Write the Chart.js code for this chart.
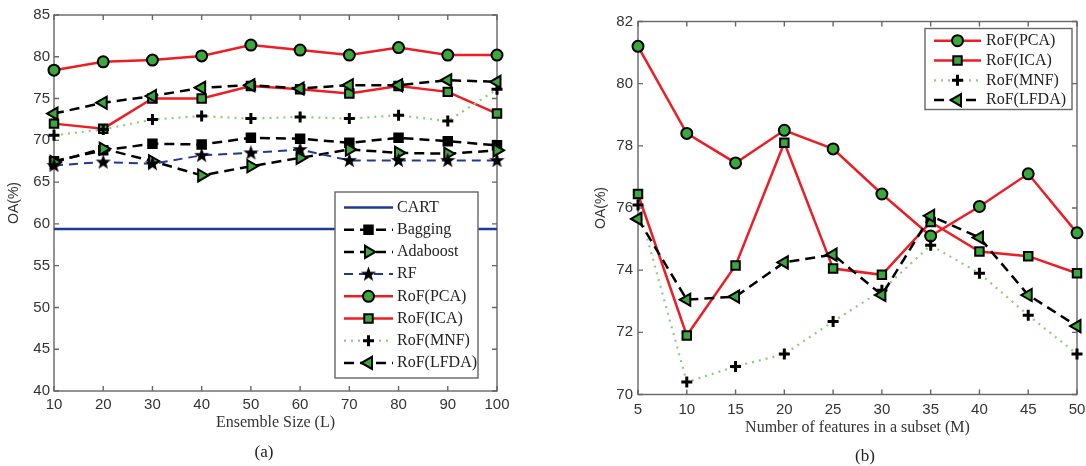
<!DOCTYPE html>
<html>
<head>
<meta charset="utf-8">
<script src="https://cdn.jsdelivr.net/npm/chart.js@4.4.0/dist/chart.umd.min.js"></script>
<style>
    body { margin: 0; background: #fff; width: 1086px; height: 466px; overflow: hidden; position: relative; }
    canvas { position: absolute; top: 0; }
    #graficaA { left: 0; }
    #graficaB { left: 546px; }
    .pie { position: absolute; font-family: "Liberation Serif", serif; font-size: 17px; color: #222; transform: translateX(-50%); }
</style>
</head>
<body>
<canvas id="graficaA" width="540" height="466"></canvas>
<canvas id="graficaB" width="540" height="466"></canvas>
<div class="pie" style="left:264px; top:442px;">(a)</div>
<div class="pie" style="left:865px; top:446px;">(b)</div>
<script>
// (a) precisión vs tamaño del ensamble
const tamanosEnsamble = [10, 20, 30, 40, 50, 60, 70, 80, 90, 100];
const cartOA     = [59.4, 59.4, 59.4, 59.4, 59.4, 59.4, 59.4, 59.4, 59.4, 59.4];
const baggingOA  = [67.5, 68.8, 69.6, 69.5, 70.3, 70.2, 69.7, 70.3, 69.9, 69.4];
const adaboostOA = [67.4, 69.0, 67.5, 65.8, 66.9, 67.9, 68.9, 68.5, 68.4, 68.8];
const rfOA       = [67.0, 67.4, 67.2, 68.2, 68.5, 68.9, 67.6, 67.6, 67.6, 67.6];
const pcaOA_a    = [78.4, 79.4, 79.6, 80.1, 81.4, 80.8, 80.2, 81.1, 80.2, 80.2];
const icaOA_a    = [72.0, 71.4, 75.0, 75.0, 76.5, 76.1, 75.6, 76.5, 75.8, 73.2];
const mnfOA_a    = [70.6, 71.3, 72.5, 72.9, 72.6, 72.8, 72.6, 73.0, 72.3, 76.1];
const lfdaOA_a   = [73.2, 74.5, 75.3, 76.3, 76.6, 76.2, 76.6, 76.6, 77.2, 77.0];

// (b) precisión vs número de atributos por subconjunto
const numAtributos = [5, 10, 15, 20, 25, 30, 35, 40, 45, 50];
const pcaOA_b  = [81.2, 78.4, 77.45, 78.5, 77.9, 76.45, 75.1, 76.05, 77.1, 75.2];
const icaOA_b  = [76.45, 71.9, 74.15, 78.1, 74.05, 73.85, 75.55, 74.6, 74.45, 73.9];
const mnfOA_b  = [76.1, 70.4, 70.9, 71.3, 72.35, 73.35, 74.8, 73.9, 72.55, 71.3];
const lfdaOA_b = [75.65, 73.05, 73.15, 74.25, 74.5, 73.2, 75.75, 75.05, 73.2, 72.2];

const ROJO = "rgb(236,30,36)";
const VERDE = "rgb(58,168,58)";
const AZUL = "rgb(30,58,150)";
const VERDE_CLARO = "rgb(140,205,120)";
const SANS = "'Liberation Sans', Arial, sans-serif";
const SERIF = "'Liberation Serif', 'Times New Roman', serif";

// estrella rellena (pentagrama de matlab)
const estrella = document.createElement("canvas");
estrella.width = 17; estrella.height = 17;
(function () {
    const c = estrella.getContext("2d");
    c.beginPath();
    for (let i = 0; i < 10; i++) {
        const r = i % 2 === 0 ? 8 : 3.3;
        const ang = -Math.PI / 2 + i * Math.PI / 5;
        c.lineTo(8.5 + r * Math.cos(ang), 8.8 + r * Math.sin(ang));
    }
    c.closePath();
    c.fillStyle = "#000";
    c.fill();
})();

function puntos(xs, ys) {
    return xs.map((x, i) => ({ x, y: ys[i] }));
}

function serie(label, xs, ys, estilo, idx) {
    return Object.assign({
        label,
        data: puntos(xs, ys),
        fill: false,
        tension: 0,
        clip: false,
        order: 20 - idx,
        borderWidth: 2.5,
        pointBorderColor: "#000",
        pointBorderWidth: 2,
        pointBackgroundColor: VERDE,
        pointRotation: 0
    }, estilo);
}

const estCirculo = { borderColor: ROJO, pointStyle: "circle", pointRadius: 5.5 };
const estCuadro = { borderColor: ROJO, pointStyle: "rect", pointRadius: 6 };
const estMas = { borderColor: VERDE_CLARO, borderWidth: 2.2, borderDash: [2, 5], pointStyle: "cross", pointRadius: 5.5, pointBorderWidth: 3 };
const estTriIzq = { borderColor: "#000", borderDash: [10, 6], pointStyle: "triangle", pointRotation: -90, pointRadius: 7 };

// marco con marcas hacia adentro
const marcoEjes = {
    id: "marcoEjes",
    beforeDatasetsDraw(chart) {
        const { ctx, chartArea: a, scales: { x, y } } = chart;
        ctx.save();
        ctx.strokeStyle = "#666";
        ctx.lineWidth = 1.4;
        ctx.strokeRect(a.left, a.top, a.right - a.left, a.bottom - a.top);
        ctx.beginPath();
        x.ticks.forEach(t => {
            const px = x.getPixelForValue(t.value);
            ctx.moveTo(px, a.bottom); ctx.lineTo(px, a.bottom - 5);
            ctx.moveTo(px, a.top); ctx.lineTo(px, a.top + 5);
        });
        y.ticks.forEach(t => {
            const py = y.getPixelForValue(t.value);
            ctx.moveTo(a.left, py); ctx.lineTo(a.left + 5, py);
            ctx.moveTo(a.right, py); ctx.lineTo(a.right - 5, py);
        });
        ctx.stroke();
        ctx.restore();
    }
};

// leyenda con muestra de línea y marcador
const leyendaCaja = {
    id: "leyendaCaja",
    afterDatasetsDraw(chart, args, op) {
        const ctx = chart.ctx;
        ctx.save();
        ctx.fillStyle = "#fff";
        ctx.fillRect(op.x, op.y, op.w, op.h);
        ctx.strokeStyle = "#666";
        ctx.lineWidth = 1.4;
        ctx.strokeRect(op.x, op.y, op.w, op.h);
        chart.data.datasets.forEach((ds, i) => {
            const cy = op.primera + i * op.paso;
            ctx.beginPath();
            ctx.setLineDash(ds.borderDash || []);
            ctx.strokeStyle = ds.borderColor;
            ctx.lineWidth = ds.borderWidth;
            ctx.moveTo(op.lineaDe, cy);
            ctx.lineTo(op.lineaA, cy);
            ctx.stroke();
            ctx.setLineDash([]);
            if (ds.pointRadius > 0 && Chart.helpers && Chart.helpers.drawPoint) {
                ctx.fillStyle = ds.pointBackgroundColor;
                ctx.strokeStyle = ds.pointBorderColor;
                ctx.lineWidth = ds.pointBorderWidth;
                Chart.helpers.drawPoint(ctx, {
                    pointStyle: ds.pointStyle,
                    radius: ds.pointRadius,
                    rotation: ds.pointRotation || 0,
                    borderWidth: ds.pointBorderWidth
                }, (op.lineaDe + op.lineaA) / 2, cy);
            }
            ctx.fillStyle = "#222";
            ctx.font = "16px " + SERIF;
            ctx.textBaseline = "middle";
            ctx.textAlign = "left";
            ctx.fillText(ds.label, op.textoX, cy);
        });
        ctx.restore();
    }
};

function ejeX(min, max, paso, titulo, padTicks, padTitulo) {
    return {
        type: "linear", min, max,
        ticks: { stepSize: paso, padding: padTicks, color: "#333", maxRotation: 0, autoSkip: false, font: { family: SANS, size: 15 } },
        grid: { display: false, drawTicks: false },
        border: { display: false },
        title: { display: true, text: titulo, color: "#333", font: { family: SERIF, size: 16 }, padding: { top: 0, bottom: padTitulo } },
        afterFit(s) { s.height = 45; s.paddingLeft = 0; s.paddingRight = 0; }
    };
}

function ejeY(min, max, paso, ancho, padTicks, padTitulo) {
    return {
        min, max,
        ticks: { stepSize: paso, padding: padTicks, color: "#333", font: { family: SANS, size: 15 } },
        grid: { display: false, drawTicks: false },
        border: { display: false },
        title: { display: true, text: "OA(%)", color: "#333", font: { family: SANS, size: 14 }, padding: { top: padTitulo, bottom: 0 } },
        afterFit(s) { s.width = ancho; s.paddingTop = 0; s.paddingBottom = 0; }
    };
}

new Chart(document.getElementById("graficaA"), {
    type: "line",
    data: {
        datasets: [
            serie("CART", tamanosEnsamble, cartOA, { borderColor: AZUL, borderWidth: 2.5, pointRadius: 0 }, 0),
            serie("Bagging", tamanosEnsamble, baggingOA, { borderColor: "#000", borderDash: [10, 6], pointStyle: "rect", pointRadius: 6, pointBackgroundColor: "#000" }, 1),
            serie("Adaboost", tamanosEnsamble, adaboostOA, { borderColor: "#000", borderDash: [10, 6], pointStyle: "triangle", pointRotation: 90, pointRadius: 7 }, 2),
            serie("RF", tamanosEnsamble, rfOA, { borderColor: AZUL, borderWidth: 2, borderDash: [9, 6], pointStyle: estrella, pointRadius: 7 }, 3),
            serie("RoF(PCA)", tamanosEnsamble, pcaOA_a, estCirculo, 4),
            serie("RoF(ICA)", tamanosEnsamble, icaOA_a, estCuadro, 5),
            serie("RoF(MNF)", tamanosEnsamble, mnfOA_a, estMas, 6),
            serie("RoF(LFDA)", tamanosEnsamble, lfdaOA_a, estTriIzq, 7)
        ]
    },
    options: {
        responsive: false,
        animation: false,
        devicePixelRatio: 1,
        layout: { padding: { left: 0, top: 15, right: 43, bottom: 30 } },
        scales: {
            x: ejeX(10, 100, 10, "Ensemble Size (L)", 5, 4),
            y: ejeY(40, 85, 5, 54, 4, 6)
        },
        plugins: {
            legend: { display: false },
            tooltip: { enabled: false },
            leyendaCaja: { x: 335, y: 192, w: 143, h: 186, primera: 207.5, paso: 22.2, lineaDe: 344, lineaA: 393, textoX: 397 }
        }
    },
    plugins: [marcoEjes, leyendaCaja]
});

new Chart(document.getElementById("graficaB"), {
    type: "line",
    data: {
        datasets: [
            serie("RoF(PCA)", numAtributos, pcaOA_b, estCirculo, 0),
            serie("RoF(ICA)", numAtributos, icaOA_b, estCuadro, 1),
            serie("RoF(MNF)", numAtributos, mnfOA_b, estMas, 2),
            serie("RoF(LFDA)", numAtributos, lfdaOA_b, estTriIzq, 3)
        ]
    },
    options: {
        responsive: false,
        animation: false,
        devicePixelRatio: 1,
        layout: { padding: { left: 0, top: 21.5, right: 7, bottom: 26.5 } },
        scales: {
            x: ejeX(5, 50, 5, "Number of features in a subset (M)", 6.4, 2.2),
            y: ejeY(70, 82, 2, 92, 5, 46.6)
        },
        plugins: {
            legend: { display: false },
            tooltip: { enabled: false },
            leyendaCaja: { x: 379, y: 28.5, w: 147, h: 81, primera: 40.7, paso: 19.8, lineaDe: 388, lineaA: 435, textoX: 440 }
        }
    },
    plugins: [marcoEjes, leyendaCaja]
});
</script>
</body>
</html>
